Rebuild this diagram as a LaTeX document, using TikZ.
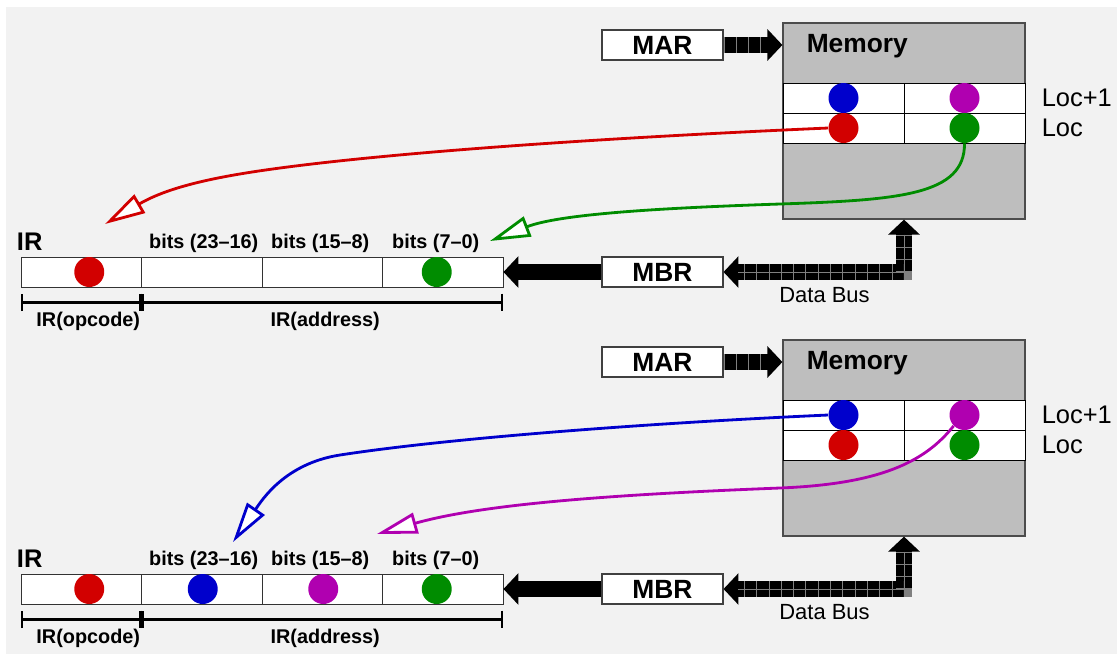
\documentclass[tikz,border=0pt]{standalone}
\usepackage{fontspec}
\setmainfont{Liberation Sans}
\usepackage{tikz}
\usetikzlibrary{arrows.meta, calc}
\definecolor{bggray}{RGB}{242,242,242}
\definecolor{memgray}{RGB}{190,190,190}
\definecolor{dotred}{RGB}{210,0,0}
\definecolor{dotblue}{RGB}{0,0,204}
\definecolor{dotmagenta}{RGB}{176,0,176}
\definecolor{dotgreen}{RGB}{0,140,0}

\tikzset{
	bustip/.tip={Triangle[length=8.5pt, width=17.5pt]},
	bus/.style={line width=9pt, -bustip,
		postaction={draw, gray, line width=9pt, dash pattern=on 0.4pt off 6.6pt, arrows=-, shorten >=8.5pt}},
	busboth/.style={line width=9pt, bustip-bustip,
		postaction={draw, gray, line width=9pt, dash pattern=on 0.4pt off 6.6pt, arrows=-, shorten <=8.5pt, shorten >=8.5pt},
		postaction={draw, gray, line width=0.4pt, arrows=-, shorten <=8.5pt, shorten >=8.5pt}},
	solidbus/.style={line width=9pt, -bustip},
	flow/.style={line width=1.6pt, -{Triangle[length=23pt, width=12pt, fill=white]}},
	bracket/.style={line width=1.6pt, {Bar[width=10pt]}-{Bar[width=10pt]}}
}

\begin{document}
\begin{tikzpicture}[x=0.02cm, y=-0.02cm,
	regbox/.style={draw=black!75, fill=white, line width=0.6pt, minimum width=2.42cm, minimum height=0.6cm, inner sep=0pt, font=\bfseries\fontsize{15}{18}\selectfont},
	membox/.style={draw=black!70, fill=memgray, line width=0.7pt, minimum width=4.84cm, minimum height=3.92cm, inner sep=0pt},
	memcell/.style={draw=black, fill=white, line width=0.5pt, minimum width=2.42cm, minimum height=0.6cm, inner sep=0pt},
	ircell/.style={draw=black!80, fill=white, line width=0.5pt, minimum width=2.41cm, minimum height=0.6cm, inner sep=0pt},
	bitdot/.style={circle, fill=#1, minimum size=0.6cm, inner sep=0pt},
	memtitle/.style={font=\bfseries\fontsize{15}{18}\selectfont, inner sep=0pt},
	loclabel/.style={font=\fontsize{14.5}{17}\selectfont, inner sep=0pt},
	irlabel/.style={font=\bfseries\fontsize{14.5}{17}\selectfont, inner sep=0pt},
	bitlabel/.style={font=\bfseries\fontsize{11.3}{13}\selectfont, inner sep=0pt},
	buslabel/.style={font=\fontsize{12.5}{15}\selectfont, inner sep=0pt}]

	\useasboundingbox (0,0) rectangle (1117,654);
	\fill[bggray] (6,7) rectangle (1117,654);

	% the two snapshots share the same layout
	\foreach \s/\dy in {a/0, b/317} {
		% memory with the two locations
		\node[membox] (mem\s) at (904,121+\dy) {};
		\node[memtitle, anchor=base west] (memname\s) at ($(mem\s.north west)+(24,30)$) {Memory};
		\node[memcell] (m\s11) at (843.5,98+\dy) {};
		\node[memcell] (m\s12) at (964.5,98+\dy) {};
		\node[memcell] (m\s21) at (843.5,128+\dy) {};
		\node[memcell] (m\s22) at (964.5,128+\dy) {};
		\node[bitdot=dotblue] (mblue\s) at (m\s11) {};
		\node[bitdot=dotmagenta] (mmag\s) at (m\s12) {};
		\node[bitdot=dotred] (mred\s) at (m\s21) {};
		\node[bitdot=dotgreen] (mgreen\s) at (m\s22) {};
		\node[loclabel, anchor=base west] (locone\s) at ($(m\s12.east)+(16,8)$) {Loc+1};
		\node[loclabel, anchor=base west] (loc\s) at ($(m\s22.east)+(16,8)$) {Loc};
		% MAR and MBR
		\node[regbox] (mar\s) at (662.5,45+\dy) {MAR};
		\node[regbox] (mbr\s) at (662.5,272+\dy) {MBR};
		% instruction register
		\foreach \i/\cx in {1/81.25, 2/201.75, 3/322.25, 4/442.75}
			\node[ircell] (ir\s\i) at (\cx,272+\dy) {};
		\node[irlabel, anchor=base west] (irname\s) at ($(ir\s1.north west)+(-4,-6)$) {IR};
		\node[bitlabel, anchor=base] (bitshi\s) at ($(ir\s2.north)+(2,-8)$) {bits (23--16)};
		\node[bitlabel, anchor=base] (bitsmid\s) at ($(ir\s3.north)+(-2,-8)$) {bits (15--8)};
		\node[bitlabel, anchor=base] (bitslo\s) at ($(ir\s4.north)+(-7,-8)$) {bits (7--0)};
		% fields
		\draw[bracket] ($(ir\s1.south west)+(0,15)$) -- ($(ir\s1.south east)+(0,15)$);
		\draw[bracket] ($(ir\s2.south west)+(0,15)$) -- ($(ir\s4.south east)+(0,15)$);
		\node[bitlabel, anchor=base] (opcode\s) at ($(ir\s1.south)+(7,39)$) {IR(opcode)};
		\node[bitlabel, anchor=base] (address\s) at ($(ir\s3.south)+(3,39)$) {IR(address)};
		% buses
		\draw[bus] (mar\s.east) -- (mar\s.east -| mem\s.west);
		\draw[solidbus] (mbr\s.west) -- (ir\s4.east);
		\draw[busboth] (mem\s.south) |- (mbr\s.east);
		\node[buslabel, anchor=base] (busname\s) at ($(mbr\s.east)+(101,30)$) {Data Bus};
	}

	% contents of IR
	\node[bitdot=dotred] (irreda) at ($(ira1)+(8,0)$) {};
	\node[bitdot=dotgreen] (irgreena) at ($(ira4)+(-6,0)$) {};
	\node[bitdot=dotred] (irredb) at ($(irb1)+(8,0)$) {};
	\node[bitdot=dotblue] (irblueb) at ($(irb2)+(1,0)$) {};
	\node[bitdot=dotmagenta] (irmagb) at ($(irb3)+(1,0)$) {};
	\node[bitdot=dotgreen] (irgreenb) at ($(irb4)+(-6,0)$) {};

	% transfers
	\coordinate (redtip) at (105,224);
	\coordinate (greentip) at (490,241);
	\coordinate (bluetip) at (233,542);
	\coordinate (magtip) at (377,534);
	\draw[flow, dotred] (mreda.west) .. controls (600,138) and (400,152) .. (280,168)
		.. controls (220,176) and (170,186) .. (redtip);
	\draw[flow, dotgreen] (mgreena.south) .. controls (965,195) and (900,200) .. (780,204)
		.. controls (660,208) and (560,214) .. (greentip);
	\draw[flow, dotblue] (mblueb.west) .. controls (650,423) and (450,438) .. (340,455)
		.. controls (285,463.5) and (262,500) .. (bluetip);
	\draw[flow, dotmagenta] (mmagb.south west) .. controls (925,462) and (880,484) .. (780,488)
		.. controls (600,495) and (480,505) .. (magtip);
\end{tikzpicture}
\end{document}
